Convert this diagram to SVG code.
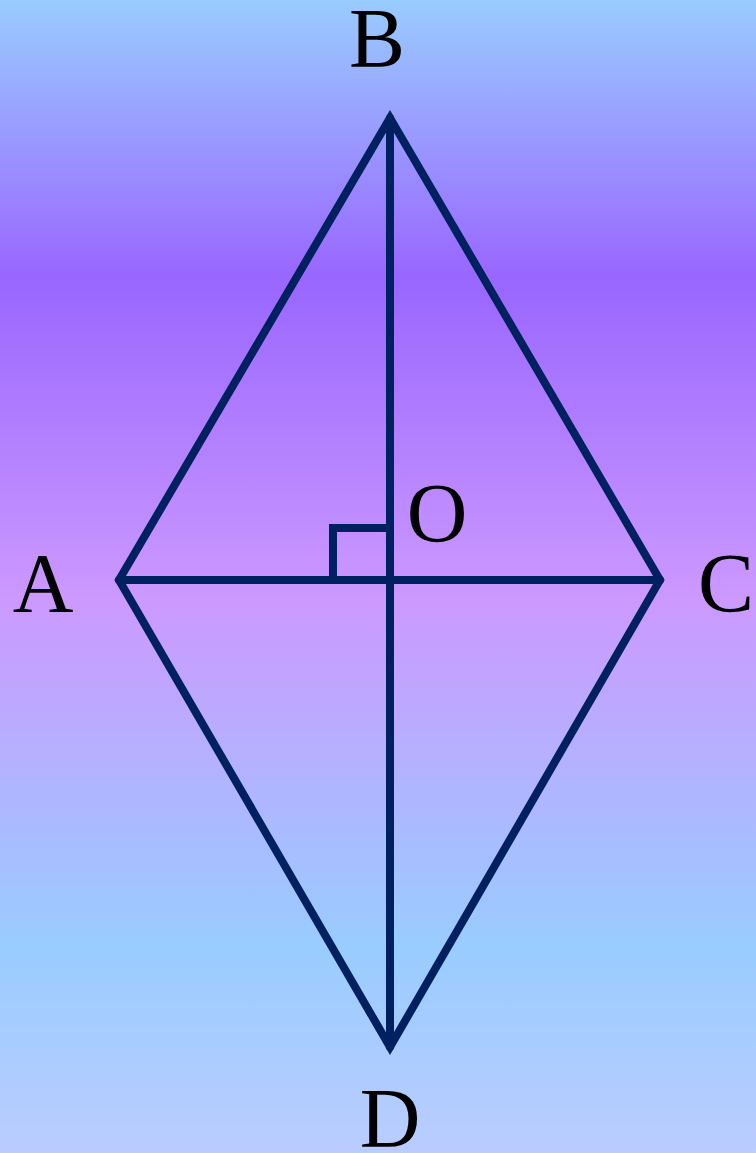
<svg xmlns="http://www.w3.org/2000/svg" width="756" height="1153" viewBox="0 0 756 1153">
  <defs>
    <linearGradient id="bg" x1="0" y1="0" x2="0" y2="1">
      <stop offset="0" stop-color="#99CCFF"/>
      <stop offset="0.24" stop-color="#9966FF"/>
      <stop offset="0.52" stop-color="#CC99FF"/>
      <stop offset="0.82" stop-color="#99CCFF"/>
      <stop offset="1" stop-color="#BBCCFF"/>
    </linearGradient>
  </defs>
  <style>
    .ln { fill: none; stroke: #002060; stroke-width: 8; stroke-linejoin: miter; stroke-linecap: round; }
    .lbl { font-family: "Liberation Serif", "Times New Roman", serif; font-size: 84px; fill: #000000; text-anchor: middle; }
  </style>
  <rect x="0" y="0" width="756" height="1153" fill="url(#bg)"/>
  <g id="connectors">
    <polygon class="ln" points="390,118 660,580 390,1047 119,580"/>
    <line class="ln" x1="390" y1="118" x2="390" y2="1047"/>
    <line class="ln" x1="119" y1="580" x2="660" y2="580"/>
    <polyline class="ln" points="333,580 333,528 387,528"/>
  </g>
  <g id="B"><text class="lbl" x="377" y="67">B</text></g>
  <g id="A"><text class="lbl" x="43" y="612">A</text></g>
  <g id="O"><text class="lbl" x="437" y="542">O</text></g>
  <g id="C"><text class="lbl" x="726" y="612">C</text></g>
  <g id="D"><text class="lbl" x="390" y="1147">D</text></g>
</svg>
